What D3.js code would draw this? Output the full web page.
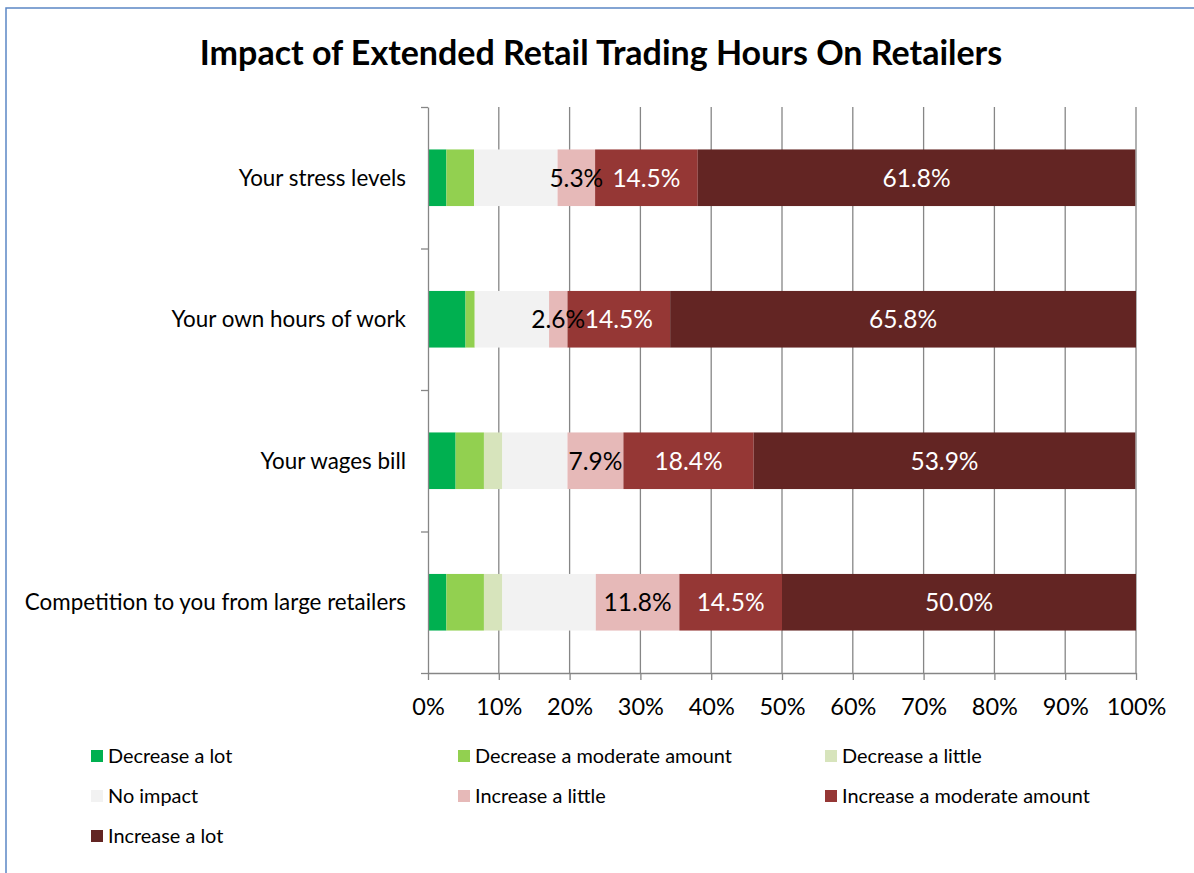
<!DOCTYPE html>
<html>
<head>
<meta charset="utf-8">
<script src="https://cdn.jsdelivr.net/npm/d3@7"></script>
<style>
  html, body { margin: 0; padding: 0; background: #fff; }
  svg { display: block; font-family: Lato, "Open Sans", sans-serif; }
</style>
</head>
<body>
<svg id="chart" width="1194" height="873"></svg>
<script>
// ---- Data ----
const categories = [
  "Your stress levels",
  "Your own hours of work",
  "Your wages bill",
  "Competition to you from large retailers"
];
const seriesNames = [
  "Decrease a lot",
  "Decrease a moderate amount",
  "Decrease a little",
  "No impact",
  "Increase a little",
  "Increase a moderate amount",
  "Increase a lot"
];
const decreaseALot      = [2.6, 5.3, 3.9, 2.6];
const decreaseModerate  = [3.9, 1.3, 4.0, 5.3];
const decreaseALittle   = [0.0, 0.0, 2.6, 2.6];
const noImpact          = [11.8, 10.5, 9.2, 13.2];
const increaseALittle   = [5.3, 2.6, 7.9, 11.8];
const increaseModerate  = [14.5, 14.5, 18.4, 14.5];
const increaseALot      = [61.8, 65.8, 53.9, 50.0];
const xTicks = [0, 10, 20, 30, 40, 50, 60, 70, 80, 90, 100];
const labelledSeries = ["Increase a little", "Increase a moderate amount", "Increase a lot"];

const seriesValues = [decreaseALot, decreaseModerate, decreaseALittle, noImpact,
                      increaseALittle, increaseModerate, increaseALot];
const colors = ["#00b050", "#92d050", "#d7e4bc", "#f2f2f2", "#e6b9b8", "#953735", "#632523"];
const labelColors = ["#000", "#000", "#000", "#000", "#000", "#fff", "#fff"];

// ---- Layout ----
const svg = d3.select("#chart");
const plotLeft = 428, plotRight = 1136, plotTop = 107, plotBottom = 673;

// chart border
svg.append("rect")
  .attr("x", 6).attr("y", 8).attr("width", 1194).attr("height", 873)
  .attr("fill", "none").attr("stroke", "#5b87c5").attr("stroke-width", 1.5);

// title
svg.append("text")
  .attr("x", 601).attr("y", 65)
  .attr("text-anchor", "middle")
  .attr("font-size", 34).attr("font-weight", "bold").attr("fill", "#000")
  .text("Impact of Extended Retail Trading Hours On Retailers");

const x = d3.scaleLinear().domain([0, 100]).range([plotLeft, plotRight]);
const y = d3.scaleBand().domain(categories).range([plotTop, plotBottom])
  .paddingInner(0.6).paddingOuter(0.3);
const yEdges = d3.scaleLinear().domain([0, categories.length]).range([plotTop, plotBottom]);

// gridlines
svg.append("g").selectAll("line")
  .data(xTicks.filter(t => t > 0))
  .join("line")
  .attr("x1", d => x(d)).attr("x2", d => x(d))
  .attr("y1", plotTop).attr("y2", plotBottom)
  .attr("stroke", "#868686").attr("stroke-width", 1.3);

// stacked data
const rows = categories.map((c, i) => {
  const o = { category: c };
  seriesNames.forEach((s, j) => o[s] = seriesValues[j][i]);
  return o;
});
const stack = d3.stack().keys(seriesNames)(rows);

const groups = svg.append("g").selectAll("g")
  .data(stack).join("g")
  .attr("fill", (d, i) => colors[i]);

groups.selectAll("rect")
  .data(d => d.map(v => ({ v, key: d.key })))
  .join("rect")
  .attr("x", d => x(d.v[0]))
  .attr("width", d => Math.max(0, x(d.v[1]) - x(d.v[0])))
  .attr("y", d => y(d.v.data.category))
  .attr("height", y.bandwidth());

// data labels
stack.forEach((layer, i) => {
  if (!labelledSeries.includes(layer.key)) return;
  svg.append("g").selectAll("text")
    .data(layer)
    .join("text")
    .attr("x", d => (x(d[0]) + x(d[1])) / 2)
    .attr("y", d => y(d.data.category) + y.bandwidth() / 2)
    .attr("dy", "0.36em")
    .attr("text-anchor", "middle")
    .attr("font-size", 24.5)
    .attr("fill", labelColors[i])
    .text(d => (d[1] - d[0]).toFixed(1) + "%");
});

// x axis
const xAxis = svg.append("g")
  .attr("transform", `translate(0,${plotBottom})`)
  .call(d3.axisBottom(x).tickValues(xTicks).tickFormat(d => d + "%")
        .tickSize(7).tickSizeOuter(0).tickPadding(18));
xAxis.select(".domain").attr("stroke", "#868686").attr("stroke-width", 1.3);
xAxis.selectAll(".tick line").attr("stroke", "#868686").attr("stroke-width", 1.3);
xAxis.selectAll("text").attr("font-size", 23.5).attr("fill", "#000")
  .attr("font-family", "Lato, 'Open Sans', sans-serif");

// y axis (edge ticks)
const yAxis = svg.append("g")
  .attr("transform", `translate(${plotLeft},0)`)
  .call(d3.axisLeft(yEdges).ticks(categories.length).tickFormat("")
        .tickSize(7).tickSizeOuter(0));
yAxis.select(".domain").attr("stroke", "#868686").attr("stroke-width", 1.3);
yAxis.selectAll(".tick line").attr("stroke", "#868686").attr("stroke-width", 1.3);

// category labels
svg.append("g").selectAll("text")
  .data(categories).join("text")
  .attr("x", 406)
  .attr("y", d => y(d) + y.bandwidth() / 2)
  .attr("dy", "0.36em")
  .attr("text-anchor", "end")
  .attr("font-size", 22.4)
  .attr("fill", "#000")
  .text(d => d);

// legend
const legendCols = [91, 458, 825];
const legendRows = [756, 796, 836];
const legend = svg.append("g").selectAll("g")
  .data(seriesNames).join("g")
  .attr("transform", (d, i) => `translate(${legendCols[i % 3]},${legendRows[Math.floor(i / 3)]})`);
legend.append("rect")
  .attr("x", 0).attr("y", -6).attr("width", 12).attr("height", 12)
  .attr("fill", (d, i) => colors[i]);
legend.append("text")
  .attr("x", 17).attr("y", 0).attr("dy", "0.36em")
  .attr("font-size", 19.9).attr("fill", "#000")
  .text(d => d);
</script>
</body>
</html>
